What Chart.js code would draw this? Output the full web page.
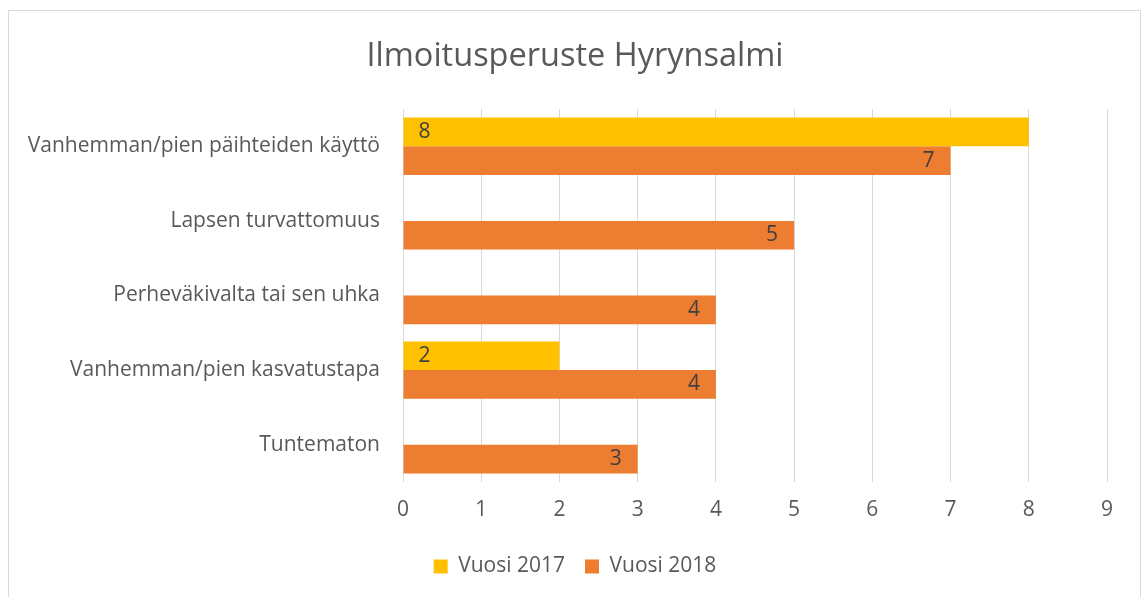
<!DOCTYPE html>
<html>
<head>
<meta charset="utf-8">
<script src="https://cdn.jsdelivr.net/npm/chart.js@4"></script>
<style>
  html, body { margin: 0; padding: 0; background: #fff; }
  body { width: 1143px; height: 597px; position: relative; overflow: hidden; }
  #frame { position: absolute; left: 8px; top: 10px; width: 1133px; height: 600px; border: 1px solid #D9D9D9; box-sizing: border-box; }
  #wrap { position: absolute; left: 0; top: 0; width: 1143px; height: 597px; }
</style>
</head>
<body>
<div id="frame"></div>
<div id="wrap"><canvas id="c" width="1143" height="597"></canvas></div>
<script>
const categories = [
  "Vanhemman/pien päihteiden käyttö",
  "Lapsen turvattomuus",
  "Perheväkivalta tai sen uhka",
  "Vanhemman/pien kasvatustapa",
  "Tuntematon"
];
const values2017 = [8, null, null, 2, null];
const values2018 = [7, 5, 4, 4, 3];
const seriesNames = ["Vuosi 2017", "Vuosi 2018"];
const xTicks = [0, 1, 2, 3, 4, 5, 6, 7, 8, 9];

const FONT = "'Open Sans', sans-serif";
const TEXT = "#595959";

const labelPlugin = {
  id: 'barLabels',
  afterDatasetsDraw(chart) {
    const ctx = chart.ctx;
    ctx.save();
    ctx.font = "21px " + FONT;
    ctx.fillStyle = "#404040";
    ctx.textBaseline = "middle";
    chart.data.datasets.forEach((ds, di) => {
      const meta = chart.getDatasetMeta(di);
      meta.data.forEach((bar, i) => {
        const v = ds.data[i];
        if (v === null || v === undefined) return;
        if (di === 0) {
          ctx.textAlign = "left";
          ctx.fillText(String(v), bar.base + 15, bar.y);
        } else {
          ctx.textAlign = "right";
          ctx.fillText(String(v), bar.x - 16, bar.y);
        }
      });
    });
    ctx.restore();
  }
};

new Chart(document.getElementById('c'), {
  type: 'bar',
  data: {
    labels: categories,
    datasets: [
      { label: seriesNames[0], data: values2017, backgroundColor: "#FFC000" },
      { label: seriesNames[1], data: values2018, backgroundColor: "#ED7D31" }
    ]
  },
  options: {
    indexAxis: 'y',
    responsive: false,
    animation: false,
    devicePixelRatio: 1,
    categoryPercentage: 0.77,
    barPercentage: 1.0,
    layout: { padding: { top: 37, left: 8, right: 1, bottom: 10 } },
    scales: {
      x: {
        min: 0, max: 9,
        afterBuildTicks(scale) { scale.ticks = xTicks.map(v => ({ value: v })); },
        afterFit(scale) { scale.height = 54; },
        grid: { color: "#D9D9D9", lineWidth: 1, drawTicks: false },
        border: { display: false },
        ticks: { color: TEXT, font: { family: FONT, size: 21 }, padding: 15 }
      },
      y: {
        afterFit(scale) { scale.width = 395; },
        grid: { display: false, drawTicks: false },
        border: { display: false },
        ticks: { color: TEXT, font: { family: FONT, size: 21 }, padding: 23 }
      },
      yRight: {
        axis: 'y',
        position: 'right',
        display: true,
        afterFit(scale) { scale.width = 35; },
        grid: { display: false, drawTicks: false },
        border: { display: false },
        ticks: { display: false }
      }
    },
    plugins: {
      title: {
        display: true,
        text: "Ilmoitusperuste Hyrynsalmi",
        color: TEXT,
        font: { family: FONT, size: 32.5, weight: 'normal' },
        padding: { top: 0, bottom: 33 }
      },
      legend: {
        position: 'bottom',
        labels: {
          color: TEXT,
          font: { family: FONT, size: 21 },
          boxWidth: 14, boxHeight: 14,
          padding: 20
        }
      },
      tooltip: { enabled: false }
    }
  },
  plugins: [labelPlugin]
});
</script>
</body>
</html>
